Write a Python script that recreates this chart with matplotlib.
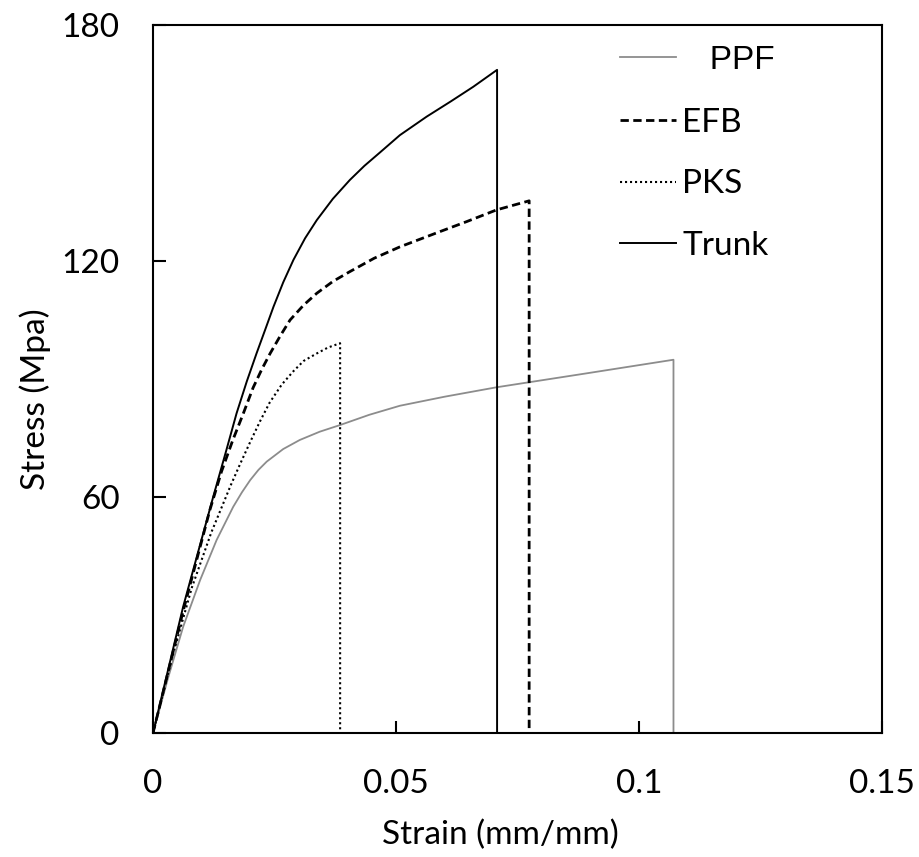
import matplotlib
matplotlib.use('Agg')
import matplotlib.pyplot as plt

plt.rcParams['font.family'] = ['Lato', 'DejaVu Sans']

# stress-strain curves (last point = drop to zero)
ppf_strain = [0, 0.0031, 0.0062, 0.0097, 0.0131, 0.0165, 0.0183, 0.020, 0.0217, 0.0234, 0.0268, 0.0302,
              0.0343, 0.0385, 0.0445, 0.0508, 0.0600, 0.0707, 0.0890, 0.1071, 0.1071]
ppf_stress = [0, 14.0, 27.0, 38.9, 49.1, 57.5, 61.2, 64.3, 66.9, 69.0, 72.2, 74.5,
              76.6, 78.3, 80.9, 83.2, 85.5, 87.9, 91.4, 94.9, 0]

efb_strain = [0, 0.0062, 0.0117, 0.0141, 0.0164, 0.0186, 0.0206, 0.0224, 0.0241, 0.0262, 0.0282, 0.0310,
              0.0337, 0.0370, 0.0405, 0.0455, 0.0508, 0.0591, 0.0645, 0.0707, 0.0774, 0.0774]
efb_stress = [0, 31.0, 56.7, 66.5, 74.4, 81.3, 87.8, 92.5, 96.5, 101.0, 105.0, 108.8,
              111.8, 114.8, 117.3, 120.7, 123.6, 127.5, 130.0, 133.0, 135.3, 0]

pks_strain = [0, 0.004, 0.008, 0.012, 0.016, 0.018, 0.020, 0.022, 0.024, 0.0265, 0.0289, 0.031,
              0.0337, 0.036, 0.0385, 0.0385]
pks_stress = [0, 19.5, 37.0, 51.0, 63.0, 68.6, 74.0, 79.2, 84.0, 88.6, 92.0, 94.6,
              96.5, 98.0, 99.1, 0]

trunk_strain = [0, 0.0062, 0.0124, 0.0150, 0.0172, 0.0193, 0.0213, 0.0231, 0.0248, 0.0268, 0.0289, 0.0313,
                0.0337, 0.0370, 0.0405, 0.0435, 0.0467, 0.0508, 0.0563, 0.0613, 0.0659, 0.0708, 0.0708]
trunk_stress = [0, 32.1, 60.1, 71.5, 81.3, 89.4, 96.5, 102.6, 108.4, 114.6, 120.3, 125.8,
                130.4, 135.8, 140.6, 144.2, 147.6, 152.0, 156.7, 160.6, 164.3, 168.6, 0]

fig = plt.figure(figsize=(9.19, 8.57), dpi=100)
ax = fig.add_axes([0.1665, 0.1447, 0.7932, 0.8261])

ax.plot(ppf_strain, ppf_stress, color='#8c8c8c', lw=1.3, label='   PPF')
ax.plot(efb_strain, efb_stress, color='black', lw=2.0, dashes=(3.0, 1.6), label='EFB')
ax.plot(pks_strain, pks_stress, color='black', lw=1.5, dashes=(1, 1.4), label='PKS')
ax.plot(trunk_strain, trunk_stress, color='black', lw=1.4, label='Trunk')

ax.set_xlim(0, 0.15)
ax.set_ylim(0, 180)
ax.set_xticks([0, 0.05, 0.1, 0.15])
ax.set_xticklabels(['0', '0.05', '0.1', '0.15'])
ax.set_yticks([0, 60, 120, 180])

for s in ax.spines.values():
    s.set_linewidth(1.5)
ax.tick_params(direction='in', length=9, width=1.5, labelsize=24)
ax.tick_params(axis='y', pad=24)
ax.tick_params(axis='x', pad=26)

ax.set_xlabel('Strain (mm/mm)', fontsize=24)
ax.set_ylabel('Stress (Mpa)', fontsize=24)
ax.xaxis.set_label_coords(0.476, -0.122)
ax.yaxis.set_label_coords(-0.14, 0.472)

leg = ax.legend(loc='upper left', bbox_to_anchor=(0.64, 0.972), frameon=False,
                fontsize=24, handlelength=1.7, handletextpad=0.18,
                labelspacing=0.95, borderpad=0, borderaxespad=0)
leg.get_texts()[0].set_fontfamily('Liberation Sans')
leg.get_texts()[0].set_fontsize(24)

fig.savefig('out.png', dpi=100)
